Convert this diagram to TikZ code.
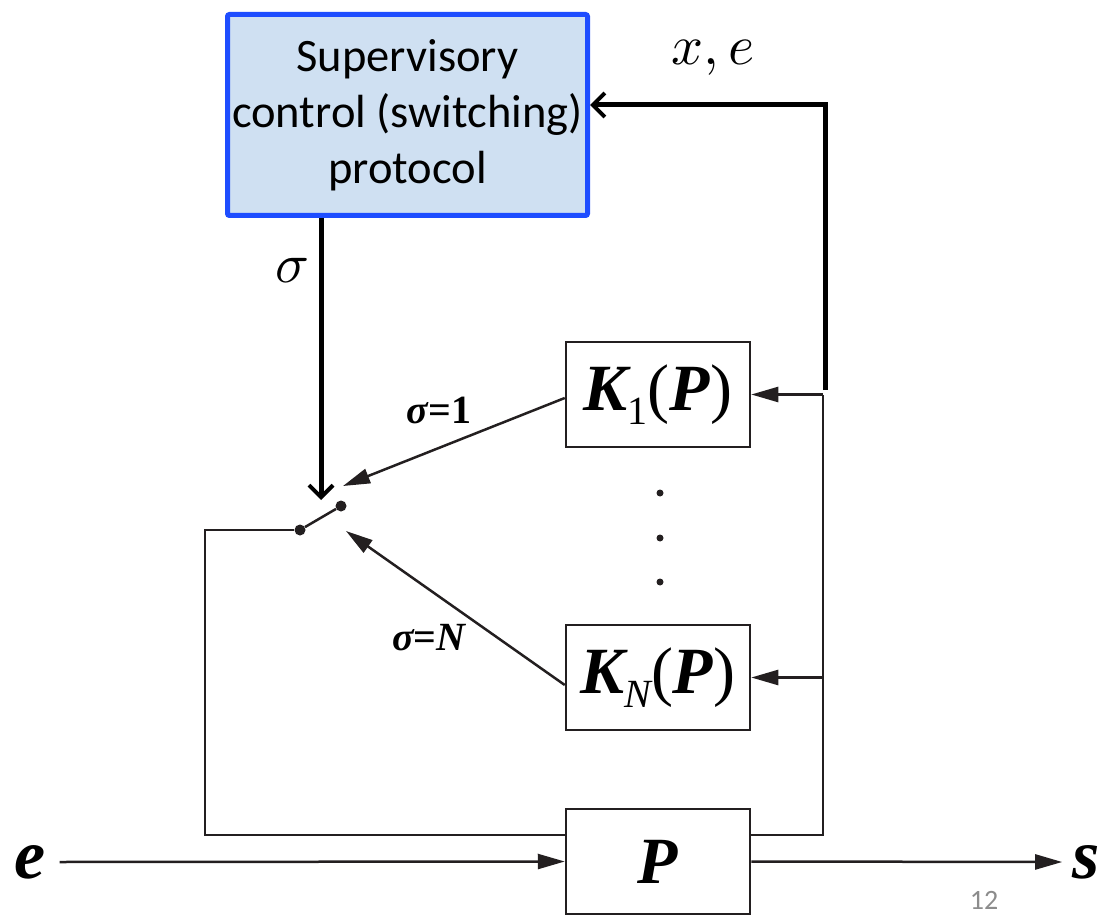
\documentclass[tikz,border=0pt]{standalone}
\usepackage{graphicx}
\usepackage{fontspec}
\setmainfont{Liberation Serif}
\newfontfamily\carl{Carlito}
\usetikzlibrary{arrows.meta}
\definecolor{supfill}{HTML}{CFE0F2}
\definecolor{supblue}{HTML}{1E4DFF}
\definecolor{ink}{HTML}{231F20}
\definecolor{pagegray}{HTML}{8C8C8C}
\begin{document}
\begin{tikzpicture}[x=1pt,y=-1pt,
  thinline/.style={draw=ink, line width=2.5pt},
  thickline/.style={draw=black, line width=5pt},
  blk/.style={draw=ink, line width=2.5pt, minimum width=184pt, minimum height=105pt, inner sep=0pt},
  tri/.style={-{Triangle[length=27pt,width=15pt]}},
  barb/.style={-{Straight Barb[length=12pt,width=24pt,line width=4pt]}},
  lbl/.style={font=\fontsize{40}{40}\selectfont\bfseries, inner sep=0pt},
  dot/.style={circle, fill=ink, inner sep=0pt, minimum size=#1}]
\useasboundingbox (0,0) rectangle (1111,917);

% supervisory block
\node[draw=supblue, fill=supfill, line width=5pt, minimum width=360pt, minimum height=201pt,
      rounded corners=2pt, align=center, font=\carl\fontsize{46.5}{56}\selectfont] (sup) at (407.5,115)
      {Supervisory\\control (switching)\\protocol};

% controller and plant blocks
\node[blk] (K1) at (658,394.5) {\fontsize{66}{66}\selectfont{\bfseries\itshape K}\raisebox{-14pt}{\fontsize{40}{40}\selectfont 1}(\textbf{\textit{P}})};
\node[blk] (KN) at (658,677.5) {\fontsize{66}{66}\selectfont{\bfseries\itshape K}\raisebox{-14pt}{\fontsize{40}{40}\selectfont\itshape N}(\textbf{\textit{P}})};
\node[blk] (P) at (658,861.5) {\fontsize{66}{66}\selectfont\bfseries\itshape P};

% vertical dots
\node[dot=7pt] (v1) at (660,493) {};
\node[dot=7pt] (v2) at (660,538) {};
\node[dot=7pt] (v3) at (660,582) {};

% switch
\node[dot=11pt] (d1) at (300,530) {};
\node[dot=11pt] (d2) at (341,506) {};
\draw[thinline] (d1) -- (d2);

% labels
\node (sig) at (293,270) {\scalebox{5.6}{$\sigma$}};
\node (xe) at (713,58) {\scalebox{5.6}{$x,e$}};
\node[lbl] (s1) at (439,410) {{\itshape σ}=1};
\node[lbl] (sN) at (429,638) {{\itshape σ}={\itshape N}};
\node[inner sep=0pt, font=\fontsize{70}{70}\selectfont\bfseries\itshape] (ein) at (30,862) {e};
\node[inner sep=0pt, font=\fontsize{70}{70}\selectfont\bfseries\itshape] (sout) at (1086,862) {s};
\node[text=pagegray, font=\carl\fontsize{28}{28}\selectfont, inner sep=0pt] (pg) at (984,900) {12};

% coordinates
\coordinate (xetop) at (825,105);
\coordinate (xebot) at (825,390);
\coordinate (fbtop) at (823,394.5);
\coordinate (fbmid) at (823,677.5);
\coordinate (fbleft) at (205,530);
\coordinate (sw) at (321,500);
\coordinate (t1) at (343,486);
\coordinate (tN) at (346,531);

% thick connectors
\draw[thickline, barb] (xebot) -- (xetop) -- (sup.east |- xetop);
\draw[thickline, barb] (sup.south -| sw) -- (sw);

% feedback from plant
\draw[thinline] ([yshift=26.5pt]P.east) -| (fbtop);
\draw[thinline, tri] (fbtop) -- (K1.east);
\draw[thinline, tri] (fbmid) -- (KN.east);
\draw[thinline] ([yshift=26.5pt]P.west) -| (fbleft) -- (d1);

% controller outputs to switch
\draw[thinline, tri] ([yshift=-3.5pt]K1.west) -- (t1);
\draw[thinline, tri] ([yshift=-7.5pt]KN.west) -- (tN);

% input and output
\draw[thinline, tri] ([xshift=14pt]ein.east) -- (P.west);
\draw[thinline, tri] (P.east) -- ([xshift=-10pt]sout.west);
\end{tikzpicture}
\end{document}
